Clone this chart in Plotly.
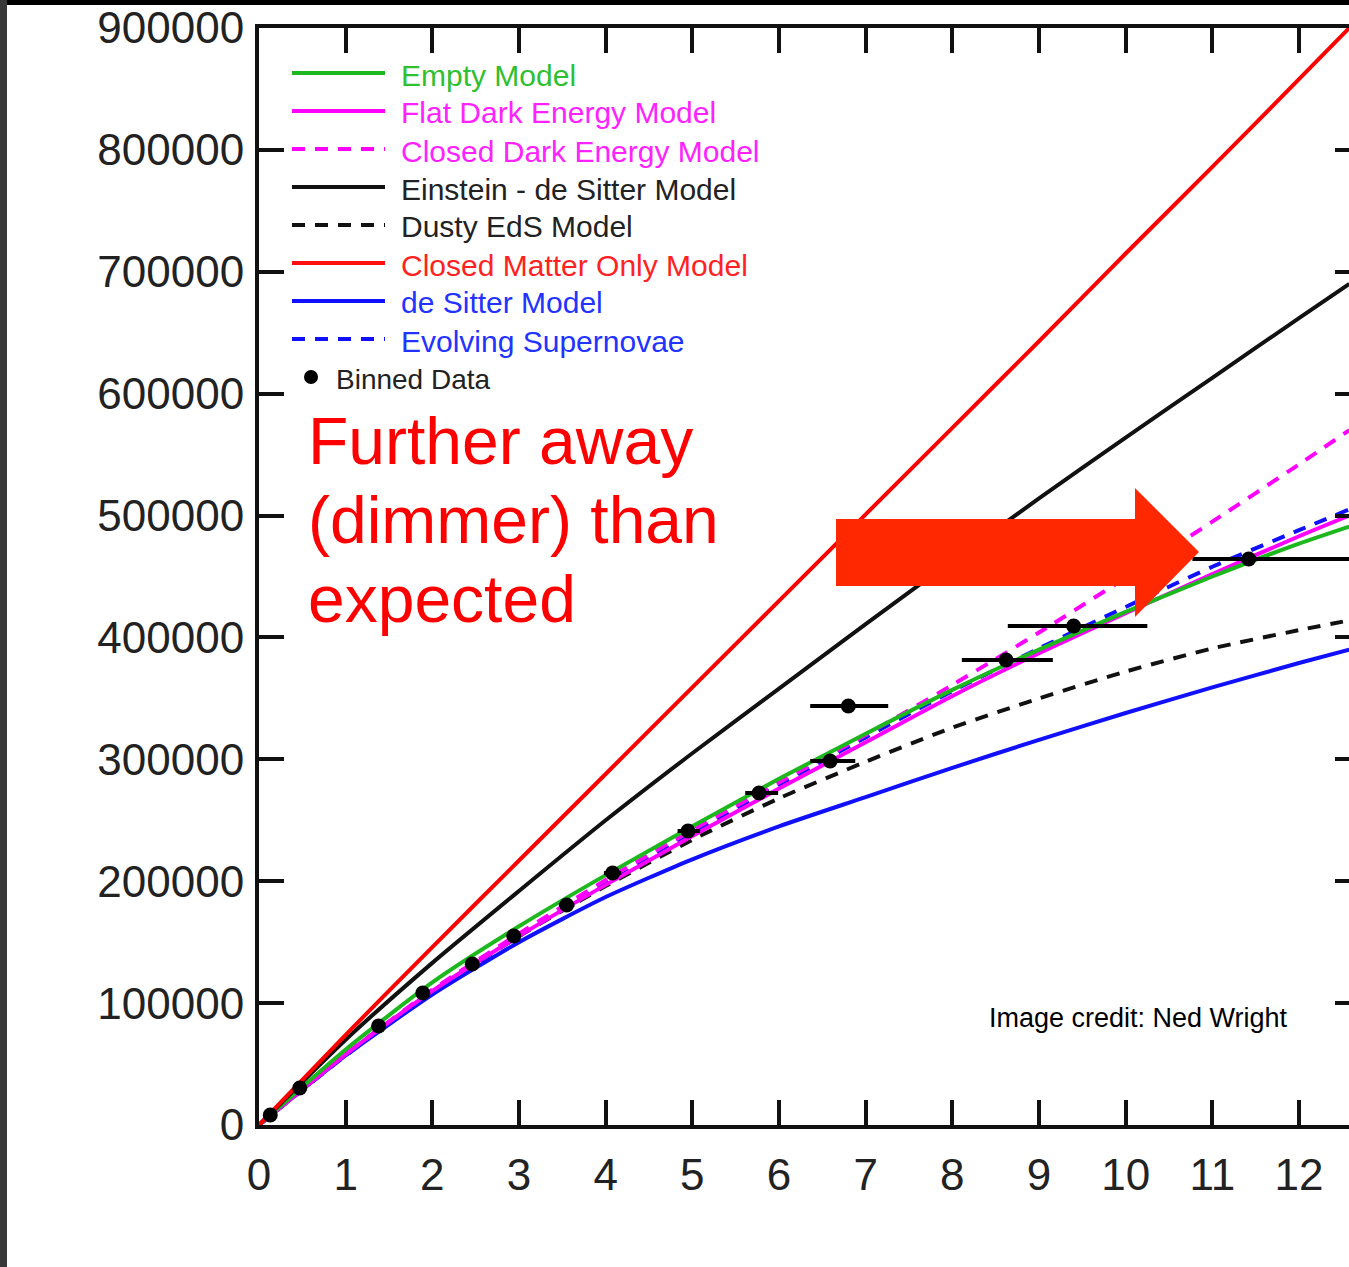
import plotly.graph_objects as go

# ---------------- data ----------------
x_model = [0, 1, 2, 3, 4, 5, 6, 7, 8, 9, 10, 11, 12, 12.58]

empty_model = [0, 62000, 117000, 163000, 205000, 245000, 284000, 321000, 357000, 390000, 421000, 450000, 477000, 491000]
flat_de = [0, 58000, 110000, 155000, 197000, 237000, 276000, 314000, 352000, 387000, 420000, 452000, 483000, 500000]
closed_de = [0, 58000, 111000, 157000, 201000, 242000, 281000, 320000, 361000, 404000, 449000, 495000, 542000, 570000]
eds_model = [0, 70000, 133000, 192000, 250000, 305000, 358000, 411000, 463000, 514000, 564000, 613000, 662000, 690000]
dusty_eds = [0, 58000, 110000, 155000, 196000, 234000, 268000, 298000, 326000, 350000, 372000, 391000, 406000, 414000]
closed_matter = [0, 74000, 146000, 217000, 288000, 359000, 430000, 501000, 572000, 643000, 715000, 786000, 858000, 900000]
de_sitter = [0, 57000, 107000, 150000, 187000, 218000, 245000, 269000, 293000, 316000, 338000, 359000, 379000, 390000]
evolving_sn = [0, 57000, 109000, 155000, 198000, 239000, 279000, 318000, 356000, 391000, 425000, 458000, 488000, 505000]

bin_x = [0.13, 0.47, 1.38, 1.89, 2.46, 2.94, 3.55, 4.08, 4.95, 5.77, 6.59, 6.80, 8.62, 9.40, 11.42]
bin_y = [8200, 30400, 81200, 108300, 132100, 155000, 180500, 206700, 241200, 272400, 298600, 343700, 381500, 409400, 464300]
bin_err_plus = [0.05, 0.06, 0.07, 0.07, 0.08, 0.08, 0.09, 0.10, 0.14, 0.22, 0.29, 0.46, 0.54, 0.85, 1.6]
bin_err_minus = [0.05, 0.06, 0.07, 0.07, 0.08, 0.08, 0.09, 0.10, 0.12, 0.16, 0.23, 0.44, 0.51, 0.76, 0.65]

x_ticks = list(range(0, 13))
y_ticks = list(range(0, 900001, 100000))

legend_names = ["Empty Model", "Flat Dark Energy Model", "Closed Dark Energy Model",
                "Einstein - de Sitter Model", "Dusty EdS Model", "Closed Matter Only Model",
                "de Sitter Model", "Evolving Supernovae"]
legend_colors = ["#1db81d", "#ff00ff", "#ff00ff", "#111111", "#111111", "#ff1010", "#1010ff", "#1010ff"]
legend_text_colors = ["#2fbf2f", "#ff22ff", "#ff22ff", "#222222", "#222222", "#ff2222", "#2233ff", "#2233ff"]
legend_dash = ["solid", "solid", "dash", "solid", "dash", "solid", "solid", "dash"]

annotation_lines = ["Further away", "(dimmer) than", "expected"]

# ---------------- geometry ----------------
W, H = 1349, 1267
L, R, T, B = 259, 0, 28, 142
PW, PH = W - L - R, H - T - B
X_MAX = 12.577
DASH = "13px,10px"
FONT = "Liberation Sans, Arial"


def px(xp):
    return (xp - L) / PW


def py(yp):
    return (H - B - yp) / PH


fig = go.Figure()

series = [
    (de_sitter, "#1010ff", "solid"),
    (dusty_eds, "#111111", DASH),
    (evolving_sn, "#1010ff", DASH),
    (closed_de, "#ff00ff", DASH),
    (flat_de, "#ff00ff", "solid"),
    (empty_model, "#1db81d", "solid"),
    (eds_model, "#111111", "solid"),
    (closed_matter, "#ff0000", "solid"),
]
for ys, col, dash in series:
    fig.add_trace(go.Scatter(x=x_model, y=ys, mode="lines",
                             line=dict(color=col, width=4, dash=dash, shape="spline", smoothing=0.6),
                             showlegend=False, hoverinfo="skip"))

fig.add_trace(go.Scatter(
    x=bin_x, y=bin_y, mode="markers",
    marker=dict(color="black", size=15),
    error_x=dict(type="data", array=bin_err_plus, arrayminus=bin_err_minus,
                 color="black", thickness=4, width=0),
    showlegend=False, hoverinfo="skip"))

# dummy trace to activate right tick axis
fig.add_trace(go.Scatter(x=[0], y=[0], yaxis="y2", mode="markers",
                         marker=dict(opacity=0), showlegend=False, hoverinfo="skip"))

shapes = []
# frame strips of the screenshot
shapes.append(dict(type="rect", xref="paper", yref="paper", x0=px(0), x1=px(W), y0=py(0), y1=py(5),
                   fillcolor="#000000", line=dict(width=0), layer="above"))
shapes.append(dict(type="rect", xref="paper", yref="paper", x0=px(0), x1=px(7), y0=py(0), y1=py(H),
                   fillcolor="#383838", line=dict(width=0), layer="above"))

# manual legend samples
row_y0, row_dy = 75, 38
annotations = []
for i, name in enumerate(legend_names):
    yy = row_y0 + i * row_dy
    shapes.append(dict(type="line", xref="paper", yref="paper", x0=px(292), x1=px(385),
                       y0=py(yy - 2), y1=py(yy - 2),
                       line=dict(color=legend_colors[i], width=4,
                                 dash=(DASH if legend_dash[i] == "dash" else "solid"))))
    annotations.append(dict(xref="paper", yref="paper", x=px(399), y=py(yy), xanchor="left", yanchor="middle",
                            text=name, showarrow=False,
                            font=dict(family=FONT, size=30, color=legend_text_colors[i])))
yy = row_y0 + 8 * row_dy
shapes.append(dict(type="circle", xref="paper", yref="paper", x0=px(304), x1=px(318),
                   y0=py(yy - 9), y1=py(yy + 5), fillcolor="black", line=dict(width=0)))
annotations.append(dict(xref="paper", yref="paper", x=px(334), y=py(yy), xanchor="left", yanchor="middle",
                        text="Binned Data", showarrow=False,
                        font=dict(family=FONT, size=28, color="#222222")))

# big red arrow
arrow_path = "M {0},{1} L {2},{1} L {2},{3} L {4},{5} L {2},{6} L {2},{7} L {0},{7} Z".format(
    px(836), py(519), px(1135), py(488), px(1199), py(552), py(617), py(586))
shapes.append(dict(type="path", xref="paper", yref="paper", path=arrow_path,
                   fillcolor="#ff2800", line=dict(width=0), layer="above"))

# red annotation text
for i, line in enumerate(annotation_lines):
    annotations.append(dict(xref="paper", yref="paper", x=px(306), y=py(480 + i * 79),
                            xanchor="left", yanchor="bottom", text=line, showarrow=False,
                            font=dict(family=FONT, size=66, color="#ff0000")))

annotations.append(dict(xref="paper", yref="paper", x=px(1290), y=py(1018), xanchor="right", yanchor="middle",
                        text="Image credit: Ned Wright", showarrow=False,
                        font=dict(family=FONT, size=27, color="#000000")))

fig.update_layout(
    width=W, height=H,
    margin=dict(l=L, r=R, t=T, b=B, pad=0),
    paper_bgcolor="white", plot_bgcolor="white",
    font=dict(family=FONT, color="#222222"),
    shapes=shapes, annotations=annotations,
    xaxis=dict(range=[0, X_MAX], tickvals=x_ticks, ticktext=[str(v) for v in x_ticks],
               ticks="inside", ticklen=25, tickwidth=4, tickcolor="#111111",
               showline=True, linewidth=4, linecolor="#111111", mirror="ticks",
               showgrid=False, zeroline=False,
               tickfont=dict(size=44, color="#222222"), ticklabelstandoff=8),
    yaxis=dict(range=[0, 900000], tickvals=y_ticks, ticktext=[str(v) for v in y_ticks],
               ticks="inside", ticklen=25, tickwidth=4, tickcolor="#111111",
               showline=True, linewidth=4, linecolor="#111111",
               showgrid=False, zeroline=False,
               tickfont=dict(size=44, color="#222222"), ticklabelstandoff=2),
    yaxis2=dict(range=[0, 900000], tickvals=y_ticks, overlaying="y", side="right", anchor="x",
                ticks="inside", ticklen=14, tickwidth=4, tickcolor="#111111",
                showticklabels=False, showline=False, showgrid=False, zeroline=False),
)

fig.write_html("out.html")
